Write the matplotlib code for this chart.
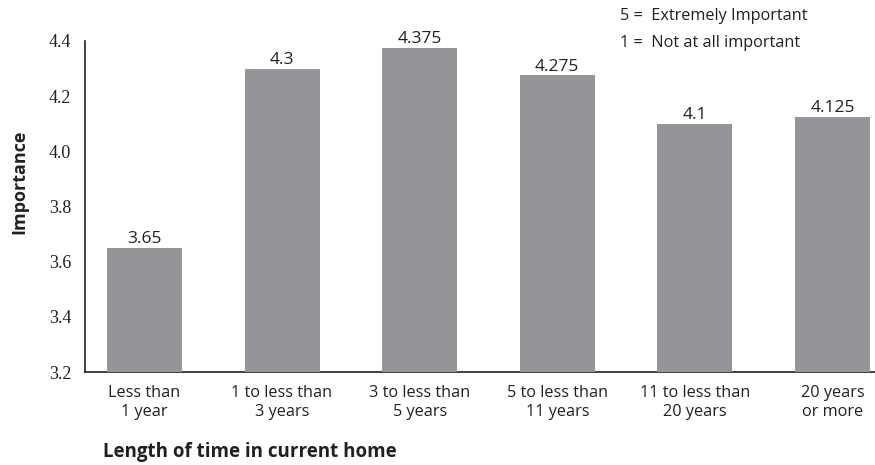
import matplotlib
matplotlib.use('Agg')
import matplotlib.pyplot as plt

# data
categories = ['Less than\n1 year', '1 to less than\n3 years', '3 to less than\n5 years',
              '5 to less than\n11 years', '11 to less than\n20 years', '20 years\nor more']
importance = [3.65, 4.3, 4.375, 4.275, 4.1, 4.125]
value_labels = ['3.65', '4.3', '4.375', '4.275', '4.1', '4.125']
y_ticks = [3.2, 3.4, 3.6, 3.8, 4.0, 4.2, 4.4]

BAR_COLOR = '#939598'
AXIS_COLOR = '#231f20'
SANS = ['Open Sans', 'DejaVu Sans']
SERIF = ['Liberation Serif', 'DejaVu Serif']

fig = plt.figure(figsize=(8.75, 4.65), dpi=100)
ax = fig.add_axes([85/875, 1 - 372/465, (875 - 85)/875, (372 - 41)/465])

xs = list(range(len(categories)))
ax.bar(xs, [v - 3.0 for v in importance], bottom=3.0, width=0.545,
       color=BAR_COLOR, zorder=3)

for x, v, lab in zip(xs, importance, value_labels):
    ax.annotate(lab, xy=(x, v), xytext=(0, 0.5), textcoords='offset points',
                ha='center', va='bottom', fontsize=12.5, family=SANS, color=AXIS_COLOR)

ax.set_xlim(-0.432, 5.309)
ax.set_ylim(3.2, 4.4)
ax.set_xticks(xs)
ax.set_xticklabels(categories, family=SANS, fontsize=11.7, color=AXIS_COLOR, linespacing=1.25)
ax.set_yticks(y_ticks)
ax.set_yticklabels(['%.1f' % t for t in y_ticks], family=SERIF, fontsize=13, color=AXIS_COLOR)
ax.tick_params(axis='both', length=0)
ax.tick_params(axis='y', pad=10)
ax.tick_params(axis='x', pad=9)

for side in ['top', 'right']:
    ax.spines[side].set_visible(False)
for side in ['left', 'bottom']:
    ax.spines[side].set_color(AXIS_COLOR)
    ax.spines[side].set_linewidth(1.2)

# axis titles placed as on the original
fig.text(19/875, 1 - 182/465, 'Importance', rotation=90, ha='center', va='center',
         family=SANS, fontsize=13, fontweight='bold', color=AXIS_COLOR)
fig.text(103/875, 1 - 452/465, 'Length of time in current home', ha='left', va='center',
         family=SANS, fontsize=13.5, fontweight='bold', color=AXIS_COLOR)

# scale note
fig.text(620/875, 1 - 16/465, '5 =  Extremely Important', ha='left', va='center',
         family=SANS, fontsize=11.7, color=AXIS_COLOR)
fig.text(620/875, 1 - 43/465, '1 =  Not at all important', ha='left', va='center',
         family=SANS, fontsize=11.7, color=AXIS_COLOR)

fig.savefig('out.png', dpi=100)
